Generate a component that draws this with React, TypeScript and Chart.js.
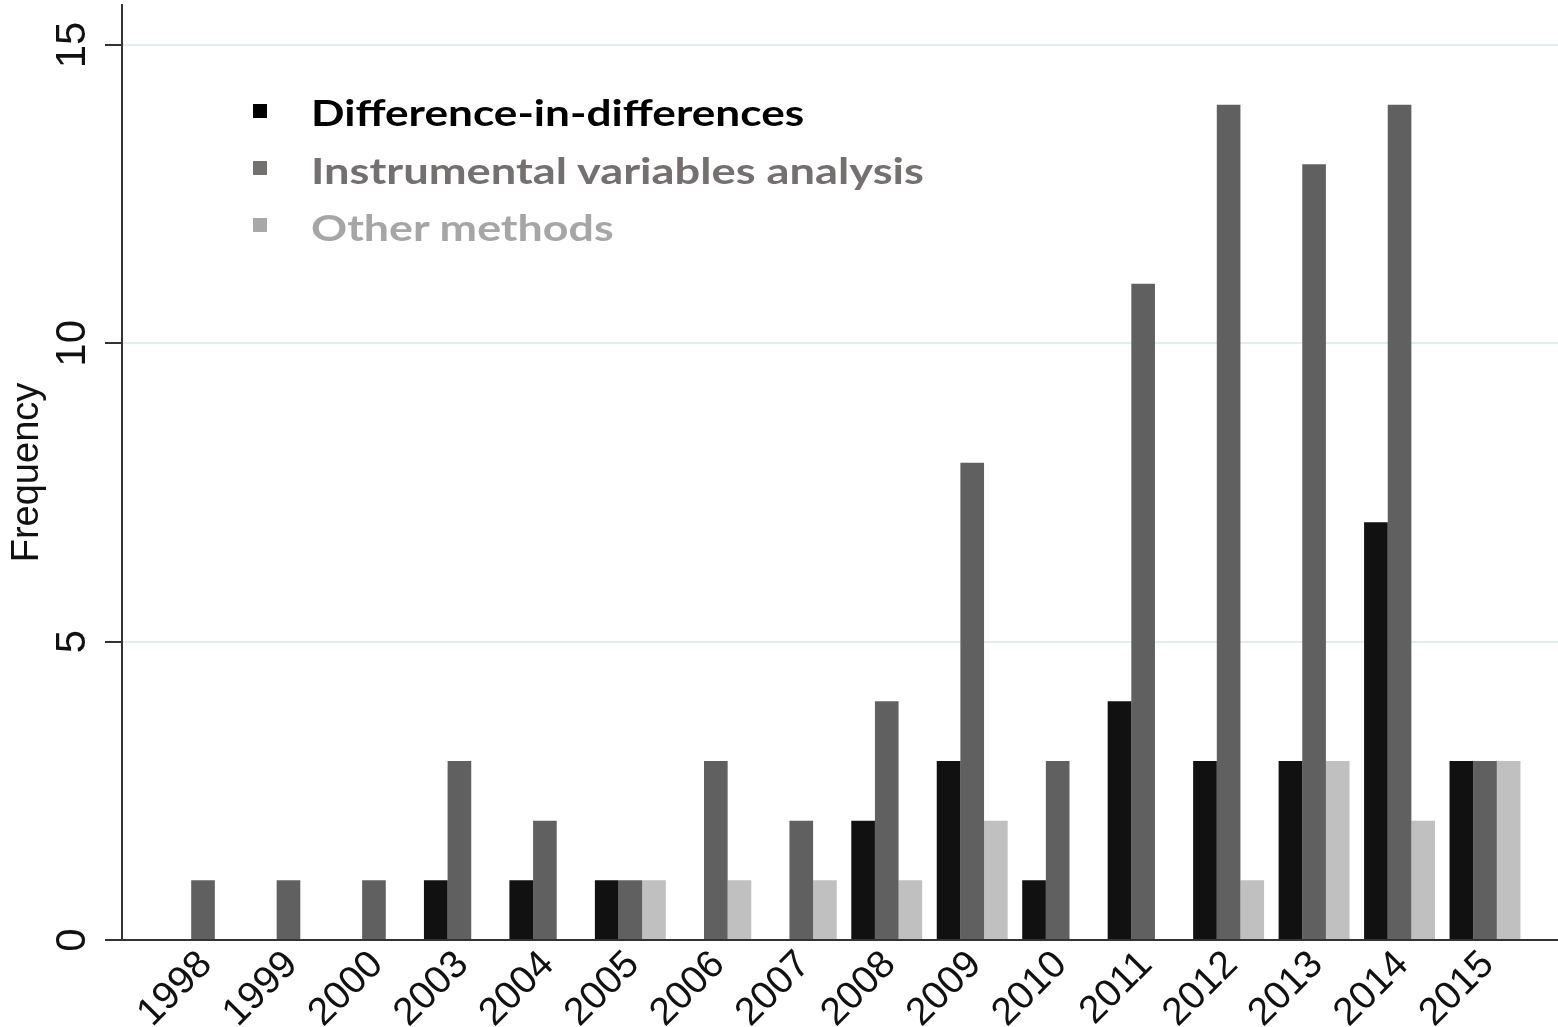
import React, { useEffect, useRef } from 'react';
import { Chart, registerables } from 'chart.js';

Chart.register(...registerables);

// ---- Data ----
const years = ['1998', '1999', '2000', '2003', '2004', '2005', '2006', '2007', '2008', '2009', '2010', '2011', '2012', '2013', '2014', '2015'];
const diffInDiff = [0, 0, 0, 1, 1, 1, 0, 0, 2, 3, 1, 4, 3, 3, 7, 3];
const instrumental = [1, 1, 1, 3, 2, 1, 3, 2, 4, 8, 3, 11, 14, 13, 14, 3];
const otherMethods = [0, 0, 0, 0, 0, 1, 1, 1, 1, 2, 0, 0, 1, 3, 2, 3];
const yTickValues = [0, 5, 10, 15];
const seriesNames = ['Difference-in-differences', 'Instrumental variables analysis', 'Other methods'];
const yAxisTitle = 'Frequency';

// ---- Styles ----
const barColors = ['#111111', '#606060', '#c0c0c0'];
const legendTextColors = ['#000000', '#757070', '#a6a6a6'];
const legendMarkerColors = ['#000000', '#747070', '#a8a8a8'];
const legendStretch = [1.227, 1.257, 1.244];
const axisFont = '"Liberation Sans", Arial, Helvetica, sans-serif';
const legendFont = 'Lato, "Open Sans", sans-serif';

const toPoints = (arr: number[]) => arr.map((v, i) => ({ x: i, y: v }));

export default function App() {
  const canvasRef = useRef<HTMLCanvasElement | null>(null);

  useEffect(() => {
    document.body.style.margin = '0';
    const canvas = canvasRef.current;
    if (!canvas) return;
    const seriesData = [diffInDiff, instrumental, otherMethods];
    const chart = new Chart(canvas, {
      type: 'bar',
      data: {
        datasets: seriesData.map((arr, k) => ({
          label: seriesNames[k],
          data: toPoints(arr),
          backgroundColor: barColors[k],
          borderWidth: 0,
          categoryPercentage: 0.83,
          barPercentage: 1,
        })),
      },
      options: {
        animation: false,
        responsive: false,
        devicePixelRatio: 1,
        layout: { padding: { top: 5, left: 0, right: 0, bottom: 0 } },
        plugins: {
          legend: { display: false },
          tooltip: { enabled: false },
        },
        scales: {
          x: {
            type: 'linear',
            min: -0.948,
            max: 15.854,
            offset: false,
            afterBuildTicks: (s: any) => {
              s.ticks = years.map((_, i) => ({ value: i }));
            },
            afterFit: (s: any) => {
              s.height = 87;
              s.paddingLeft = 0;
              s.paddingRight = 0;
            },
            ticks: {
              callback: (v: any) => years[v] ?? '',
              autoSkip: false,
              minRotation: 45,
              maxRotation: 45,
              padding: 2,
              labelOffset: 3,
              color: '#111111',
              font: { family: axisFont, size: 39 },
            },
            grid: { display: false, drawTicks: false },
            border: { display: true, color: '#333333', width: 2 },
          },
          y: {
            type: 'linear',
            min: 0,
            max: 15.67,
            afterBuildTicks: (s: any) => {
              s.ticks = yTickValues.map((v) => ({ value: v }));
            },
            afterFit: (s: any) => {
              s.width = 122;
              s.paddingTop = 0;
              s.paddingBottom = 0;
            },
            ticks: {
              minRotation: 90,
              maxRotation: 90,
              crossAlign: 'center',
              padding: 8,
              color: '#111111',
              font: { family: axisFont, size: 42 },
            },
            grid: {
              color: (ctx: any) => (ctx.tick && ctx.tick.value === 0 ? 'rgba(0,0,0,0)' : '#e2eded'),
              lineWidth: 2,
              drawTicks: true,
              tickLength: 17,
              tickColor: '#333333',
              tickWidth: 2,
            },
            border: { display: true, color: '#333333', width: 2 },
            title: {
              display: true,
              text: yAxisTitle,
              color: '#111111',
              font: { family: axisFont, size: 38 },
              padding: { top: 5, bottom: 0 },
            },
          },
        },
      } as any,
    });
    return () => chart.destroy();
  }, []);

  const capCenters = [113.3, 170.5, 227.7];
  const markerCenters = [111.3, 167.5, 225];

  return (
    <div style={{ position: 'absolute', left: 0, top: 0, width: 1558, height: 1027, background: '#ffffff', overflow: 'hidden' }}>
      <canvas ref={canvasRef} width={1558} height={1027} style={{ position: 'absolute', left: 0, top: 0, width: 1558, height: 1027 }} />
      {seriesNames.map((name, k) => (
        <React.Fragment key={name}>
          <div
            style={{
              position: 'absolute',
              left: 253,
              top: markerCenters[k] - 7,
              width: 14,
              height: 14,
              background: legendMarkerColors[k],
            }}
          />
          <div
            style={{
              position: 'absolute',
              left: 311,
              top: capCenters[k] - 19,
              lineHeight: '36px',
              fontSize: 36,
              fontWeight: 700,
              fontFamily: legendFont,
              color: legendTextColors[k],
              whiteSpace: 'nowrap',
              transform: `scaleX(${legendStretch[k]})`,
              transformOrigin: 'left center',
            }}
          >
            {name}
          </div>
        </React.Fragment>
      ))}
    </div>
  );
}
